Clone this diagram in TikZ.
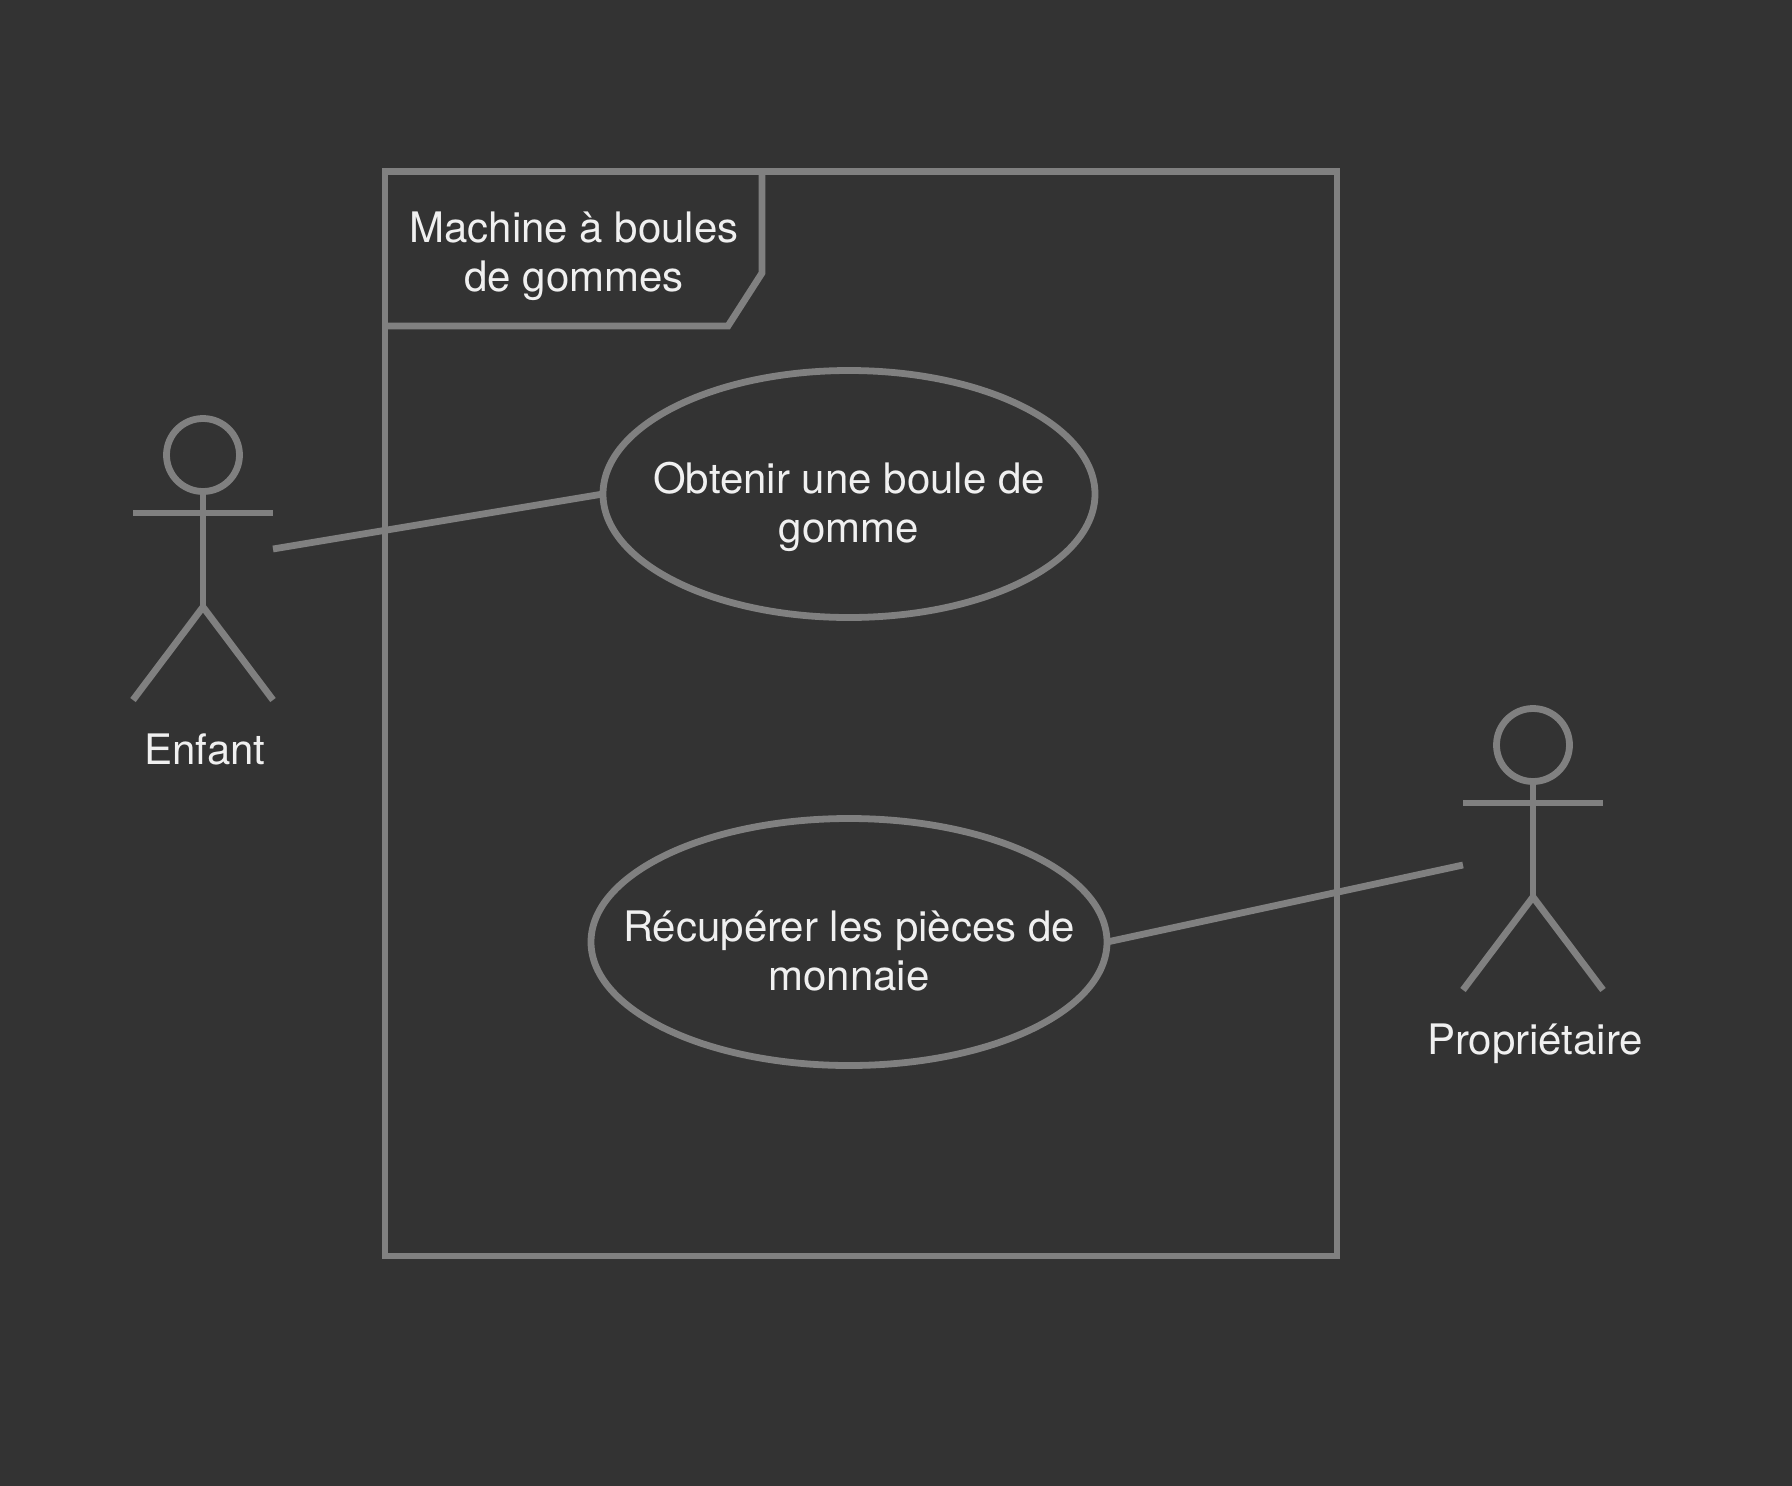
\documentclass[tikz,border=0pt]{standalone}
\usepackage{fontspec}
\setmainfont{TeX Gyre Heros}
\usetikzlibrary{shapes.geometric}
\definecolor{bg}{HTML}{333333}
\definecolor{ln}{HTML}{808080}
\definecolor{tx}{HTML}{F0F0F0}
\newcommand{\uctext}[2]{\makebox[0pt]{\raisebox{-20pt}[0pt][0pt]{\begin{tabular}{@{}c@{}}#1\\#2\end{tabular}}}}
\tikzset{
  stroke/.style={draw=ln,line width=6.8pt},
  usecase/.style={ellipse,stroke,inner sep=0pt,outer sep=0pt,minimum width=#1,minimum height=247pt,text=tx,font=\fontsize{42}{49}\selectfont},
  lbl/.style={text=tx,align=center,font=\fontsize{42}{49}\selectfont,inner sep=0pt},
  head/.style={circle,stroke,minimum size=73pt,inner sep=0pt,outer sep=0pt}
}
\begin{document}
\begin{tikzpicture}[x=1pt,y=-1pt]
\useasboundingbox[fill=bg] (0,0) rectangle (1792,1486);
% frame
\draw[stroke] (385,171.5) rectangle (1337,1256);
\draw[stroke] (385,326) -- (728,326) -- (762,273) -- (762,171.5);
\node[lbl] (title) at (574,256) {Machine à boules\\de gommes};
% use cases
\node[usecase=492pt] (uc1) at (849,494) {\uctext{Obtenir une boule de}{gomme}};
\node[usecase=516pt] (uc2) at (849,942) {\uctext{Récupérer les pièces de}{monnaie}};
% actor 1
\node[head] (h1) at (203,455) {};
\coordinate (a1l) at (133,513);
\coordinate (a1r) at (273,513);
\coordinate (a1h) at (203,607);
\coordinate (a1fl) at (133,700);
\coordinate (a1fr) at (273,700);
\coordinate (a1c) at (273,549);
\draw[stroke] (a1l) -- (a1r);
\draw[stroke] (h1.south) -- (a1h);
\draw[stroke] (a1fl) -- (a1h) -- (a1fr);
\node[lbl] (l1) at (205,749) {Enfant};
% actor 2
\node[head] (h2) at (1533,745) {};
\coordinate (a2l) at (1463,803);
\coordinate (a2r) at (1603,803);
\coordinate (a2h) at (1533,897);
\coordinate (a2fl) at (1463,990);
\coordinate (a2fr) at (1603,990);
\coordinate (a2c) at (1463,865);
\draw[stroke] (a2l) -- (a2r);
\draw[stroke] (h2.south) -- (a2h);
\draw[stroke] (a2fl) -- (a2h) -- (a2fr);
\node[lbl] (l2) at (1535,1043.5) {Propriétaire};
% connectors
\draw[stroke] (a1c) -- (uc1.west);
\draw[stroke] (uc2.east) -- (a2c);
\end{tikzpicture}
\end{document}
